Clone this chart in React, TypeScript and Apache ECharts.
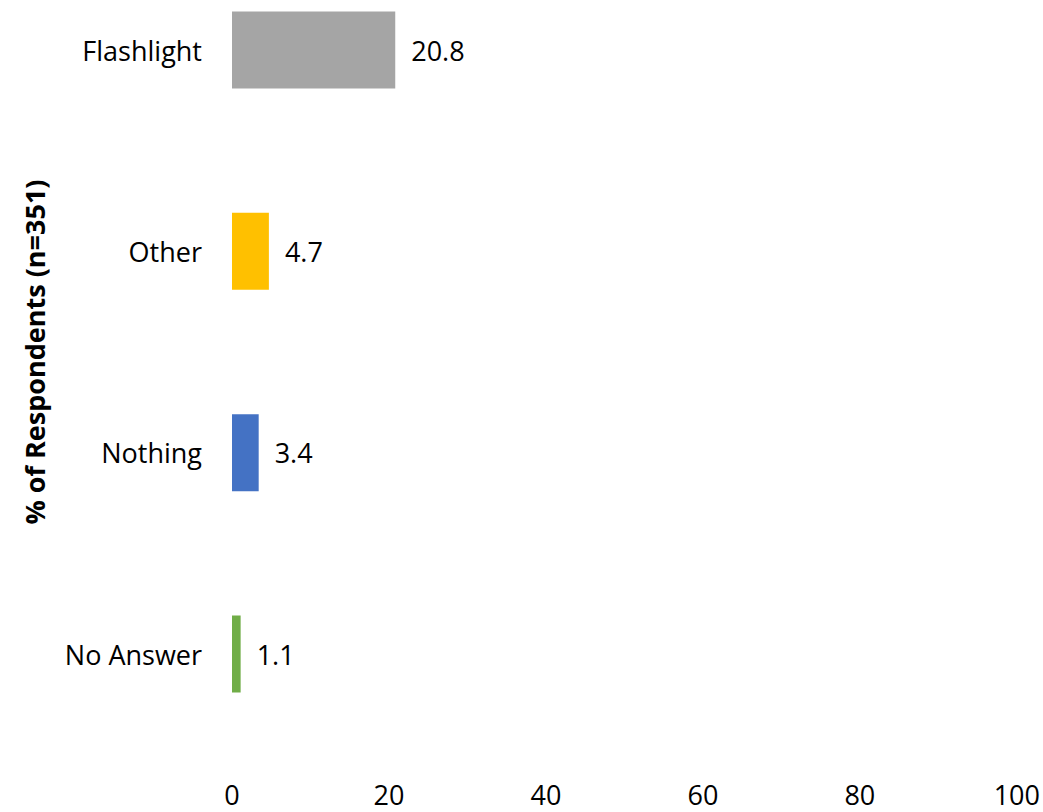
import React, { useEffect, useRef } from "react";
import * as echarts from "echarts";

const categories = ["No Answer", "Nothing", "Other", "Flashlight"];
const values = [1.1, 3.4, 4.7, 20.8];
const colors = ["#70AD47", "#4472C4", "#FFC000", "#A5A5A5"];
const xTicks = [0, 20, 40, 60, 80, 100];
const yAxisName = "% of Respondents (n=351)";

const FONT = "'Open Sans', 'Liberation Sans', sans-serif";

export default function App() {
  const ref = useRef<HTMLDivElement>(null);
  useEffect(() => {
    if (!ref.current) return;
    const chart = echarts.init(ref.current, undefined, { renderer: "svg" });
    chart.setOption({
      animation: false,
      backgroundColor: "#ffffff",
      grid: { left: 232, right: 23, top: 50, bottom: 158, containLabel: false },
      xAxis: {
        type: "value",
        min: xTicks[0],
        max: xTicks[xTicks.length - 1],
        interval: 20,
        axisLine: { show: false },
        axisTick: { show: false },
        splitLine: { show: false },
        axisLabel: { color: "#000", fontSize: 27, fontFamily: FONT, margin: 127 },
      },
      yAxis: {
        type: "category",
        data: categories,
        boundaryGap: false,
        name: yAxisName,
        nameLocation: "middle",
        nameGap: 184,
        nameTextStyle: { color: "#000", fontSize: 27, fontWeight: "bold", fontFamily: FONT },
        axisLine: { show: false },
        axisTick: { show: false },
        splitLine: { show: false },
        axisLabel: { color: "#000", fontSize: 27, fontFamily: FONT, margin: 30 },
      },
      series: [
        {
          type: "bar",
          barWidth: 77,
          data: values.map((v, i) => ({ value: v, itemStyle: { color: colors[i] } })),
          label: {
            show: true,
            position: "right",
            distance: 16,
            color: "#000",
            fontSize: 27,
            fontFamily: FONT,
            formatter: (p: any) => p.value.toFixed(1),
          },
        },
      ],
    });
    return () => chart.dispose();
  }, []);
  return (
    <div
      ref={ref}
      style={{ position: "absolute", left: 0, top: 0, width: 1043, height: 812 }}
    />
  );
}
